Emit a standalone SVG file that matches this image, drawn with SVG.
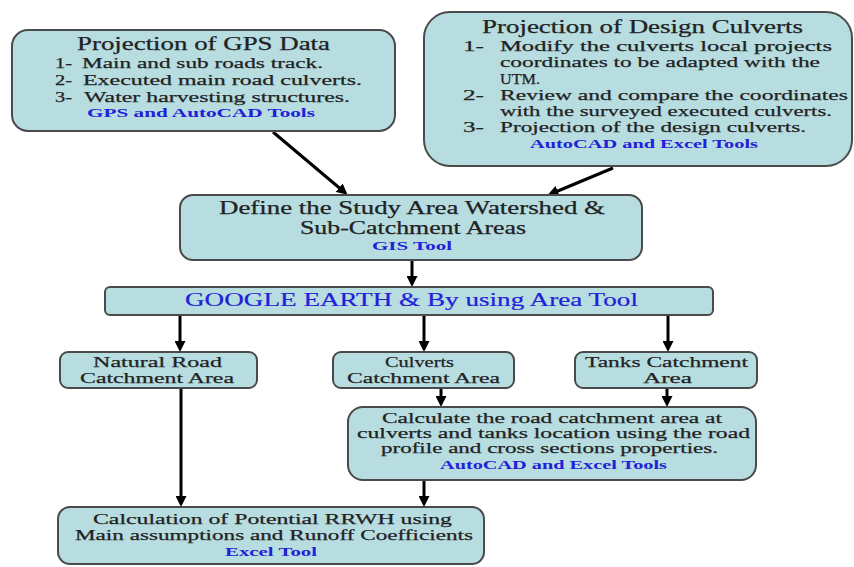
<svg xmlns="http://www.w3.org/2000/svg" width="854" height="567" viewBox="0 0 854 567" font-family="'Liberation Serif', 'DejaVu Serif', serif">
<style>
.box{fill:#b7dde1;stroke:#4a4a4a;stroke-width:2}
text{font-family:'Liberation Serif','DejaVu Serif',serif}
.t{fill:#222;font-size:15.5px;stroke:#222;stroke-width:0.25}
.s{font-size:14.5px}
.h{font-size:18px}
.b{fill:#1f22d8;font-weight:bold;font-size:12.5px}
.g{fill:#1f22d8;font-size:18px;stroke:#1f22d8;stroke-width:0.2}
.c{stroke:#000;stroke-width:3;fill:none;marker-end:url(#ah)}
</style>
<defs>
<marker id="ah" markerUnits="userSpaceOnUse" markerWidth="11" markerHeight="11" refX="5" refY="5.5" orient="auto" viewBox="0 0 11 11">
<path d="M0,0 L11,5.5 L0,11 z" fill="#000"/>
</marker>
</defs>
<rect width="854" height="567" fill="#fff"/>
<g id="connectors">
<line class="c" x1="273" y1="132" x2="343" y2="191"/>
<line class="c" x1="613" y1="168" x2="553" y2="193"/>
<line class="c" x1="412" y1="260" x2="412" y2="281"/>
<line class="c" x1="180" y1="315" x2="180" y2="346"/>
<line class="c" x1="424" y1="315" x2="424" y2="346"/>
<line class="c" x1="668" y1="315" x2="668" y2="346"/>
<line class="c" x1="441" y1="388" x2="441" y2="401"/>
<line class="c" x1="667" y1="388" x2="667" y2="401"/>
<line class="c" x1="181" y1="388" x2="181" y2="501"/>
<line class="c" x1="424" y1="480" x2="424" y2="501"/>
</g>
<g id="gps">
<rect class="box" x="12" y="30" width="383" height="101" rx="16"/>
<text class="t h" x="77" y="50" textLength="253" lengthAdjust="spacingAndGlyphs">Projection of GPS Data</text>
<text class="t" x="55" y="68" textLength="17" lengthAdjust="spacingAndGlyphs">1-</text>
<text class="t" x="82" y="68" textLength="241" lengthAdjust="spacingAndGlyphs">Main and sub roads track.</text>
<text class="t" x="55" y="85" textLength="17" lengthAdjust="spacingAndGlyphs">2-</text>
<text class="t" x="83" y="85" textLength="279" lengthAdjust="spacingAndGlyphs">Executed main road culverts.</text>
<text class="t" x="55" y="102" textLength="17" lengthAdjust="spacingAndGlyphs">3-</text>
<text class="t" x="84" y="102" textLength="266" lengthAdjust="spacingAndGlyphs">Water harvesting structures.</text>
<text class="b" x="87" y="117" textLength="228" lengthAdjust="spacingAndGlyphs">GPS and AutoCAD Tools</text>
</g>
<g id="design">
<rect class="box" x="424" y="12" width="428" height="154" rx="26"/>
<text class="t h" x="482" y="33" textLength="321" lengthAdjust="spacingAndGlyphs">Projection of Design Culverts</text>
<text class="t" x="463" y="51" textLength="21" lengthAdjust="spacingAndGlyphs">1-</text>
<text class="t" x="500" y="51" textLength="332" lengthAdjust="spacingAndGlyphs">Modify the culverts local projects</text>
<text class="t" x="500" y="67" textLength="320" lengthAdjust="spacingAndGlyphs">coordinates to be adapted with the</text>
<text class="t" x="500" y="84" textLength="40" lengthAdjust="spacingAndGlyphs">UTM.</text>
<text class="t" x="463" y="100" textLength="21" lengthAdjust="spacingAndGlyphs">2-</text>
<text class="t" x="500" y="100" textLength="348" lengthAdjust="spacingAndGlyphs">Review and compare the coordinates</text>
<text class="t" x="500" y="116" textLength="332" lengthAdjust="spacingAndGlyphs">with the surveyed executed culverts.</text>
<text class="t" x="463" y="132" textLength="21" lengthAdjust="spacingAndGlyphs">3-</text>
<text class="t" x="500" y="132" textLength="306" lengthAdjust="spacingAndGlyphs">Projection of the design culverts.</text>
<text class="b" x="530" y="148" textLength="228" lengthAdjust="spacingAndGlyphs">AutoCAD and Excel Tools</text>
</g>
<g id="define">
<rect class="box" x="180" y="195" width="462" height="65" rx="13"/>
<text class="t h" x="219" y="214" textLength="386" lengthAdjust="spacingAndGlyphs">Define the Study Area Watershed &amp;</text>
<text class="t h" x="300" y="234" textLength="226" lengthAdjust="spacingAndGlyphs">Sub-Catchment Areas</text>
<text class="b" x="372" y="250" textLength="80" lengthAdjust="spacingAndGlyphs">GIS Tool</text>
</g>
<g id="google">
<rect class="box" x="105" y="287" width="608" height="28" rx="5"/>
<text class="g" x="185" y="306" textLength="453" lengthAdjust="spacingAndGlyphs">GOOGLE EARTH &amp; By using Area Tool</text>
</g>
<g id="natural">
<rect class="box" x="60" y="352" width="197" height="36" rx="8"/>
<text class="t" x="93" y="367" textLength="129" lengthAdjust="spacingAndGlyphs">Natural Road</text>
<text class="t" x="80" y="383" textLength="154" lengthAdjust="spacingAndGlyphs">Catchment Area</text>
</g>
<g id="culverts">
<rect class="box" x="333" y="352" width="181" height="36" rx="8"/>
<text class="t" x="385" y="367" textLength="69" lengthAdjust="spacingAndGlyphs">Culverts</text>
<text class="t" x="347" y="383" textLength="153" lengthAdjust="spacingAndGlyphs">Catchment Area</text>
</g>
<g id="tanks">
<rect class="box" x="575" y="352" width="182" height="36" rx="8"/>
<text class="t" x="585" y="367" textLength="163" lengthAdjust="spacingAndGlyphs">Tanks Catchment</text>
<text class="t" x="643" y="383" textLength="49" lengthAdjust="spacingAndGlyphs">Area</text>
</g>
<g id="calculate">
<rect class="box" x="348" y="407" width="408" height="73" rx="15"/>
<text class="t s" x="382" y="423" textLength="340" lengthAdjust="spacingAndGlyphs">Calculate the road catchment area at</text>
<text class="t s" x="357" y="438" textLength="393" lengthAdjust="spacingAndGlyphs">culverts and tanks location using the road</text>
<text class="t s" x="381" y="453" textLength="337" lengthAdjust="spacingAndGlyphs">profile and cross sections properties.</text>
<text class="b" x="440" y="469" textLength="227" lengthAdjust="spacingAndGlyphs">AutoCAD and Excel Tools</text>
</g>
<g id="rrwh">
<rect class="box" x="58" y="507" width="426" height="57" rx="12"/>
<text class="t" x="93" y="524" textLength="359" lengthAdjust="spacingAndGlyphs">Calculation of Potential RRWH using</text>
<text class="t" x="75" y="540" textLength="398" lengthAdjust="spacingAndGlyphs">Main assumptions and Runoff Coefficients</text>
<text class="b" x="225" y="556" textLength="92" lengthAdjust="spacingAndGlyphs">Excel Tool</text>
</g>
</svg>
